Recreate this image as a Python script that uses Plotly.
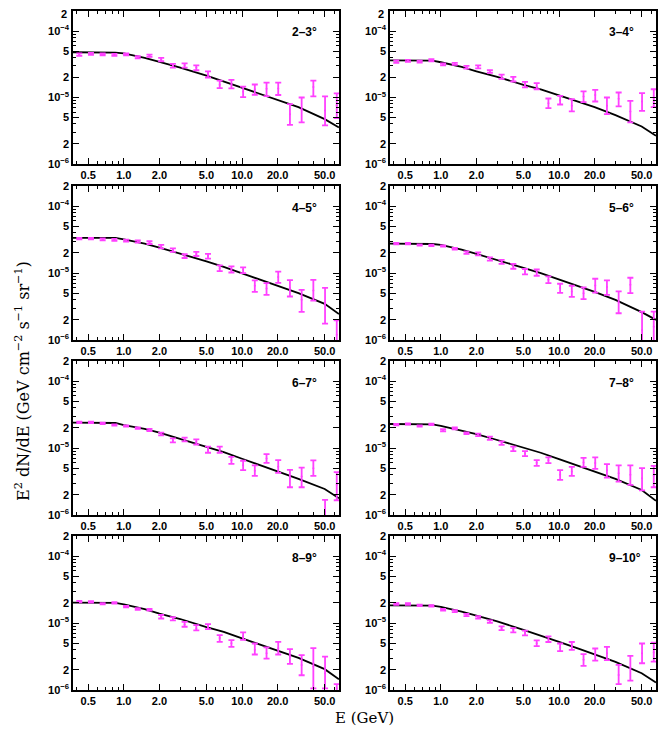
import numpy as np
import plotly.graph_objects as go
from plotly.subplots import make_subplots

# energy bin centres (GeV)
energy = [0.420, 0.527, 0.662, 0.832, 1.045, 1.312, 1.648, 2.070, 2.600, 3.266, 4.102, 5.152,
          6.471, 8.128, 10.21, 12.82, 16.11, 20.23, 25.41, 31.92, 40.09, 50.35, 63.24]
# energy grid of the model curve (GeV)
energy_model = [0.37, 0.5, 0.7, 0.85, 1.0, 1.2, 1.5, 2.0, 3.0, 5.0, 7.0, 10.0, 15.0, 20.0, 30.0, 50.0, 66.0]

labels = ["2–3°", "3–4°", "4–5°", "5–6°", "6–7°", "7–8°", "8–9°", "9–10°"]

# all fluxes in units of 1e-5 GeV cm^-2 s^-1 sr^-1
flux_23 = [4.42, 4.52, 4.47, 4.37, 4.47, 4.03, 4.27, 3.72, 3.02, 3.05, 2.82, 2.24, 1.55, 1.58, 1.22, 1.33, 1.35, 1.37, 0.562, 0.654, 1.44, 0.638, 0.76]
low_23 = [4.22, 4.37, 4.32, 4.22, 4.32, 3.89, 4.07, 3.51, 2.82, 2.82, 2.57, 2.00, 1.38, 1.37, 1.01, 1.10, 1.05, 1.09, 0.388, 0.422, 1.04, 0.38, 0.49]
high_23 = [4.62, 4.68, 4.62, 4.52, 4.62, 4.17, 4.42, 3.94, 3.20, 3.27, 3.05, 2.48, 1.80, 1.84, 1.46, 1.57, 1.68, 1.68, 0.794, 1.00, 1.80, 1.04, 1.15]
model_23 = [4.79, 4.79, 4.79, 4.73, 4.62, 4.32, 3.94, 3.43, 2.82, 2.14, 1.74, 1.40, 1.10, 0.92, 0.716, 0.473, 0.355]

flux_34 = [3.47, 3.55, 3.47, 3.63, 3.16, 3.20, 2.85, 2.92, 2.45, 2.07, 1.91, 1.57, 1.48, 0.822, 0.912, 0.75, 1.04, 1.09, 0.75, 0.955, 0.617, 0.871, 0.989]
low_34 = [3.31, 3.43, 3.35, 3.51, 3.05, 3.09, 2.72, 2.75, 2.34, 1.91, 1.74, 1.42, 1.33, 0.692, 0.785, 0.617, 0.851, 0.871, 0.562, 0.735, 0.422, 0.631, 0.716]
high_34 = [3.63, 3.67, 3.59, 3.76, 3.27, 3.31, 2.99, 3.05, 2.57, 2.21, 2.04, 1.72, 1.64, 0.966, 1.06, 0.944, 1.24, 1.30, 1.00, 1.19, 0.891, 1.16, 1.33]
model_34 = [3.63, 3.63, 3.63, 3.59, 3.39, 3.16, 2.88, 2.48, 2.04, 1.55, 1.33, 1.08, 0.861, 0.716, 0.543, 0.367, 0.266]

flux_45 = [3.27, 3.27, 3.20, 3.12, 3.05, 2.99, 2.85, 2.48, 2.21, 1.80, 1.93, 1.80, 1.18, 1.15, 1.13, 0.646, 0.589, 0.871, 0.596, 0.398, 0.55, 0.355, 0.12]
low_45 = [3.20, 3.20, 3.09, 3.02, 2.95, 2.85, 2.72, 2.34, 2.07, 1.68, 1.80, 1.64, 1.07, 1.02, 1.00, 0.525, 0.473, 0.716, 0.447, 0.263, 0.388, 0.176, 0.05]
high_45 = [3.35, 3.35, 3.31, 3.24, 3.16, 3.09, 2.99, 2.63, 2.34, 1.91, 2.07, 1.94, 1.30, 1.26, 1.22, 0.776, 0.708, 1.05, 0.785, 0.562, 0.794, 0.603, 0.196]
model_45 = [3.35, 3.35, 3.35, 3.35, 3.20, 3.02, 2.75, 2.40, 1.97, 1.50, 1.24, 0.989, 0.776, 0.653, 0.501, 0.347, 0.245]

flux_56 = [2.75, 2.75, 2.63, 2.60, 2.54, 2.32, 2.04, 1.94, 1.62, 1.46, 1.26, 1.05, 1.02, 0.794, 0.596, 0.531, 0.501, 0.653, 0.62, 0.363, 0.668, 0.141, 0.158]
low_56 = [2.69, 2.69, 2.57, 2.54, 2.48, 2.24, 1.94, 1.84, 1.53, 1.37, 1.16, 0.955, 0.912, 0.708, 0.506, 0.442, 0.407, 0.512, 0.473, 0.251, 0.501, 0.05, 0.05]
high_56 = [2.82, 2.82, 2.69, 2.66, 2.60, 2.37, 2.11, 2.04, 1.72, 1.57, 1.37, 1.15, 1.13, 0.891, 0.692, 0.646, 0.61, 0.822, 0.776, 0.531, 0.851, 0.266, 0.266]
model_56 = [2.75, 2.75, 2.75, 2.72, 2.63, 2.45, 2.24, 1.93, 1.58, 1.20, 1.00, 0.81, 0.631, 0.525, 0.398, 0.261, 0.20]

flux_67 = [2.42, 2.42, 2.34, 2.21, 2.14, 2.00, 1.86, 1.62, 1.30, 1.35, 1.24, 0.944, 0.955, 0.66, 0.556, 0.457, 0.70, 0.525, 0.355, 0.376, 0.50, 0.112, 0.282]
low_67 = [2.37, 2.37, 2.29, 2.16, 2.09, 1.94, 1.80, 1.55, 1.22, 1.26, 1.13, 0.851, 0.851, 0.582, 0.468, 0.385, 0.603, 0.427, 0.26, 0.26, 0.385, 0.05, 0.166]
high_67 = [2.48, 2.48, 2.40, 2.26, 2.19, 2.04, 1.93, 1.70, 1.40, 1.43, 1.35, 1.05, 1.05, 0.741, 0.646, 0.55, 0.813, 0.66, 0.473, 0.512, 0.653, 0.168, 0.437]
model_67 = [2.40, 2.40, 2.40, 2.37, 2.21, 2.09, 1.93, 1.70, 1.38, 1.05, 0.871, 0.692, 0.537, 0.447, 0.347, 0.245, 0.178]

flux_78 = [2.24, 2.29, 2.14, 2.26, 1.84, 1.97, 1.68, 1.58, 1.41, 1.19, 0.977, 0.832, 0.603, 0.66, 0.398, 0.447, 0.61, 0.596, 0.468, 0.422, 0.398, 0.355, 0.388]
low_78 = [2.19, 2.24, 2.09, 2.21, 1.78, 1.91, 1.62, 1.51, 1.33, 1.12, 0.902, 0.759, 0.543, 0.596, 0.335, 0.385, 0.525, 0.49, 0.363, 0.316, 0.282, 0.234, 0.26]
high_78 = [2.29, 2.34, 2.19, 2.32, 1.91, 2.04, 1.72, 1.64, 1.48, 1.26, 1.05, 0.902, 0.66, 0.724, 0.468, 0.525, 0.716, 0.724, 0.575, 0.55, 0.55, 0.501, 0.543]
model_78 = [2.29, 2.29, 2.29, 2.26, 2.14, 2.00, 1.84, 1.62, 1.32, 1.02, 0.851, 0.684, 0.537, 0.447, 0.347, 0.237, 0.163]

flux_89 = [2.09, 2.07, 1.94, 2.00, 1.76, 1.62, 1.58, 1.24, 1.16, 0.955, 0.832, 0.891, 0.596, 0.50, 0.638, 0.398, 0.355, 0.422, 0.316, 0.237, 0.224, 0.178, 0.106]
low_89 = [2.04, 2.02, 1.90, 1.95, 1.72, 1.57, 1.53, 1.17, 1.10, 0.881, 0.776, 0.813, 0.525, 0.442, 0.562, 0.339, 0.295, 0.339, 0.245, 0.166, 0.106, 0.106, 0.05]
high_89 = [2.14, 2.12, 1.99, 2.05, 1.80, 1.67, 1.63, 1.32, 1.23, 1.04, 0.933, 0.966, 0.66, 0.556, 0.724, 0.495, 0.432, 0.525, 0.407, 0.331, 0.422, 0.316, 0.122]
model_89 = [2.02, 2.02, 2.02, 2.00, 1.91, 1.76, 1.62, 1.38, 1.15, 0.871, 0.741, 0.589, 0.457, 0.385, 0.302, 0.205, 0.145]

flux_910 = [1.93, 1.93, 1.84, 1.80, 1.58, 1.51, 1.32, 1.22, 1.06, 0.841, 0.785, 0.708, 0.501, 0.575, 0.437, 0.457, 0.282, 0.343, 0.355, 0.168, 0.211, 0.355, 0.363]
low_910 = [1.88, 1.88, 1.80, 1.76, 1.53, 1.46, 1.27, 1.17, 1.01, 0.785, 0.724, 0.653, 0.452, 0.521, 0.38, 0.398, 0.229, 0.275, 0.279, 0.122, 0.138, 0.251, 0.266]
high_910 = [1.98, 1.98, 1.89, 1.85, 1.63, 1.56, 1.37, 1.27, 1.10, 0.891, 0.841, 0.77, 0.55, 0.631, 0.495, 0.521, 0.343, 0.417, 0.442, 0.237, 0.323, 0.495, 0.512]
model_910 = [1.84, 1.84, 1.84, 1.82, 1.74, 1.62, 1.48, 1.29, 1.06, 0.794, 0.653, 0.525, 0.407, 0.343, 0.263, 0.178, 0.129]

paineis = [
    (flux_23, low_23, high_23, model_23),
    (flux_34, low_34, high_34, model_34),
    (flux_45, low_45, high_45, model_45),
    (flux_56, low_56, high_56, model_56),
    (flux_67, low_67, high_67, model_67),
    (flux_78, low_78, high_78, model_78),
    (flux_89, low_89, high_89, model_89),
    (flux_910, low_910, high_910, model_910),
]

x_ticks = [0.5, 1, 2, 5, 10, 20, 50]
x_ticktext = ["0.5", "1.0", "2.0", "5.0", "10.0", "20.0", "50.0"]
x_minor = [0.4, 0.6, 0.7, 0.8, 0.9, 3, 4, 6, 7, 8, 9, 30, 40, 60]
y_ticks = [1e-6, 2e-6, 5e-6, 1e-5, 2e-5, 5e-5, 1e-4, 2e-4]
y_ticktext = ["10<sup>−6</sup>", "2", "5", "10<sup>−5</sup>", "2", "5", "10<sup>−4</sup>", "2"]
y_minor = [3e-6, 4e-6, 6e-6, 7e-6, 8e-6, 9e-6, 3e-5, 4e-5, 6e-5, 7e-5, 8e-5, 9e-5]

# the page body keeps its default 8px margin, so the figure is 16px smaller
# and every pixel position of the target is shifted by 8px
OFF = 8
W, H = 669 - 2 * OFF, 739 - 2 * OFF
col_px = [(73, 339), (390, 656)]
row_px = [(11, 164), (186, 340), (361, 515), (536, 690)]
MAGENTA = "#ff40ff"
TICKFONT = {"family": "Liberation Sans", "size": 11, "color": "black", "weight": "bold"}


def px_x(p):
    return (p - OFF) / W


def px_y(p):
    return 1 - (p - OFF) / H


fig = make_subplots(rows=4, cols=2)

for i, (f, lo, hi, mod) in enumerate(paineis):
    r, c = i // 2 + 1, i % 2 + 1
    f = np.array(f) * 1e-5
    lo = np.array(lo) * 1e-5
    hi = np.array(hi) * 1e-5
    fig.add_trace(
        go.Scatter(
            x=energy_model,
            y=np.array(mod) * 1e-5,
            mode="lines",
            line={"color": "black", "width": 1.8},
            showlegend=False,
        ),
        row=r, col=c,
    )
    fig.add_trace(
        go.Scatter(
            x=energy,
            y=f,
            mode="markers",
            marker={"color": MAGENTA, "size": 2},
            error_y={
                "type": "data",
                "symmetric": False,
                "array": hi - f,
                "arrayminus": f - lo,
                "color": MAGENTA,
                "thickness": 1.8,
                "width": 3,
            },
            showlegend=False,
        ),
        row=r, col=c,
    )

    x0, x1 = col_px[c - 1]
    y0, y1 = row_px[r - 1]
    eixo = "" if i == 0 else str(i + 1)
    fig.layout["xaxis" + eixo].update(
        domain=[px_x(x0), px_x(x1)],
        anchor="y" + eixo,
    )
    fig.layout["yaxis" + eixo].update(
        domain=[px_y(y1), px_y(y0)],
        anchor="x" + eixo,
    )
    fig.add_annotation(
        text=labels[i],
        xref=f"x{eixo} domain", yref=f"y{eixo} domain",
        x=0.816, y=0.86, xanchor="left", yanchor="middle",
        showarrow=False,
        font={"family": "Liberation Sans", "size": 12, "color": "black", "weight": "bold"},
    )

fig.update_xaxes(
    type="log",
    range=[-0.43, 1.82],
    automargin=False,
    ticklabeloverflow="allow",
    tickmode="array",
    tickvals=x_ticks,
    ticktext=x_ticktext,
    ticks="inside",
    ticklen=6,
    tickwidth=1,
    tickcolor="black",
    mirror="allticks",
    showline=True,
    linecolor="black",
    linewidth=1.5,
    showgrid=False,
    zeroline=False,
    minor={"tickmode": "array", "tickvals": x_minor, "ticks": "inside", "ticklen": 3,
           "tickcolor": "black", "tickwidth": 1, "showgrid": False},
    tickfont=TICKFONT,
)
fig.update_yaxes(
    type="log",
    range=[-6, np.log10(2e-4)],
    automargin=False,
    ticklabeloverflow="allow",
    tickmode="array",
    tickvals=y_ticks,
    ticktext=y_ticktext,
    ticks="inside",
    ticklen=6,
    tickwidth=1,
    tickcolor="black",
    mirror="allticks",
    showline=True,
    linecolor="black",
    linewidth=1.5,
    showgrid=False,
    zeroline=False,
    minor={"tickmode": "array", "tickvals": y_minor, "ticks": "inside", "ticklen": 3,
           "tickcolor": "black", "tickwidth": 1, "showgrid": False},
    tickfont=TICKFONT,
)

# top row: the uppermost "2" would sit on the page edge, so it is written a bit lower
for eixo, (x0, _) in zip(["", "2"], col_px):
    fig.layout["yaxis" + eixo].update(ticktext=y_ticktext[:-1] + [""])
    fig.add_annotation(
        text=y_ticktext[-1],
        xref="paper", yref="paper", x=px_x(x0 - 4), y=px_y(14.5),
        xanchor="right", yanchor="middle",
        showarrow=False,
        font=TICKFONT,
    )

fig.add_annotation(
    text="E<sup>2</sup> dN/dE (GeV cm<sup>−2</sup> s<sup>−1</sup> sr<sup>−1</sup>)",
    xref="paper", yref="paper", x=px_x(22), y=px_y(381),
    xanchor="center", yanchor="middle",
    textangle=-90, showarrow=False,
    font={"family": "DejaVu Serif", "size": 16, "color": "black"},
)
fig.add_annotation(
    text="E (GeV)",
    xref="paper", yref="paper", x=px_x(365), y=px_y(718),
    xanchor="center", yanchor="middle",
    showarrow=False,
    font={"family": "DejaVu Serif", "size": 15, "color": "black"},
)

fig.update_layout(
    width=W,
    height=H,
    margin={"l": 0, "r": 0, "t": 0, "b": 0},
    paper_bgcolor="white",
    plot_bgcolor="white",
)

fig.write_html("out.html")
